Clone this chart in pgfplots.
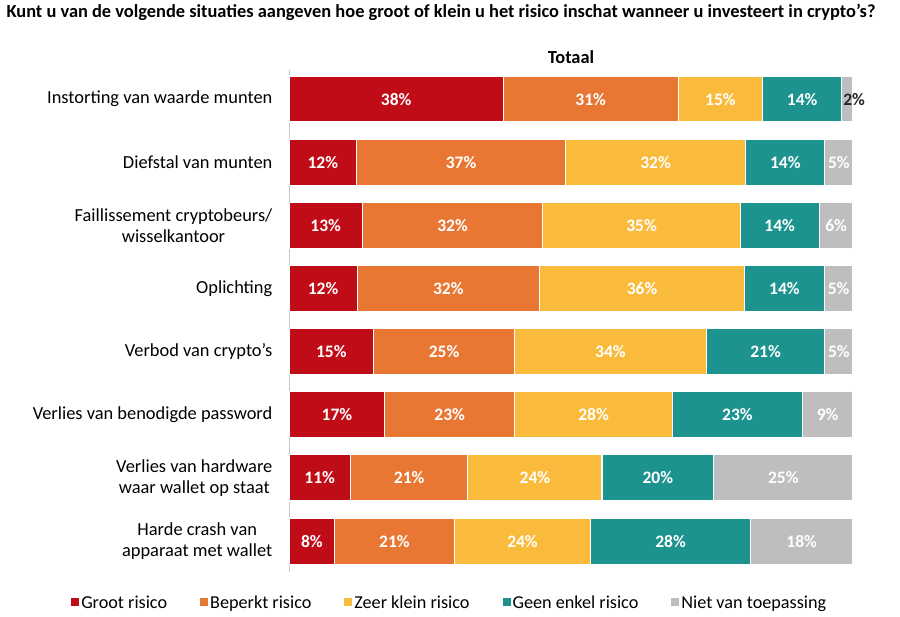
\documentclass[border=0pt]{standalone}
\usepackage{pgfplots}
\pgfplotsset{compat=1.18}
\usepackage{pgfplotstable}
\usepackage{fontspec}
\setmainfont{Carlito}

\definecolor{groot}{RGB}{192,12,22}
\definecolor{beperkt}{RGB}{233,119,52}
\definecolor{zeerklein}{RGB}{250,187,60}
\definecolor{geen}{RGB}{28,147,143}
\definecolor{niet}{RGB}{190,190,190}

% plotted widths (rows normalised to 100) and printed labels
\pgfplotstableread{
y  a    b    c    d    e    la lb lc ld le dark off z
1  38   31   15   14   2    38 31 15 14 2  85   1.2 0
2  12   37   32   14   5    12 37 32 14 5  0    0   0
3  13   32   35   14   6    13 32 35 14 6  0    0   0
4  12.1 32.3 36.4 14.1 5.1  12 32 36 14 5  0    0   0
5  15   25   34   21   5    15 25 34 21 5  0    0   0
6  17   23   28   23   9    17 23 28 23 9  0    0   0
7  10.9 20.8 23.8 19.8 24.7 11 21 24 20 25 0    0   0
8  8.1  21.2 24.2 28.3 18.2 8  21 24 28 18 0    0   0
}\risico

\pgfplotsset{
  seg/.style n args={3}{fill=#1, draw=white, line width=1.2bp,
    visualization depends on=\thisrow{#2} \as \offv,
    visualization depends on=\thisrow{#3} \as \darkv},
}

\begin{document}
\begin{tikzpicture}
\useasboundingbox (0,0) rectangle (900bp,617bp);
\node[anchor=west, font=\fontsize{18.4bp}{21bp}\selectfont\bfseries] at (3bp,605bp)
  {Kunt u van de volgende situaties aangeven hoe groot of klein u het risico inschat wanneer u investeert in crypto’s?};
\node[font=\fontsize{18.4bp}{21bp}\selectfont\bfseries] at (571bp,560bp) {Totaal};
\begin{axis}[
  at={(289bp,45bp)}, anchor=south west,
  width=564bp, height=502bp,
  scale only axis,
  xbar stacked,
  bar width=0.73,
  xmin=0, xmax=100,
  ymin=0.54, ymax=8.49,
  y dir=reverse,
  axis x line=none,
  axis y line=left,
  y axis line style={-, draw=black!22, line width=1bp},
  ytick={1,...,8},
  ytick style={draw=none},
  yticklabels={
    Instorting van waarde munten,
    Diefstal van munten,
    {Faillissement cryptobeurs/\\wisselkantoor},
    Oplichting,
    Verbod van crypto’s,
    Verlies van benodigde password,
    {Verlies van hardware\\waar wallet op staat},
    {Harde crash van\\apparaat met wallet}},
  yticklabel style={align=center, font=\fontsize{18.4bp}{21bp}\selectfont, xshift=-11bp},
  point meta=explicit symbolic,
  nodes near coords={\pgfplotspointmeta\%},
  every node near coord/.append style={anchor=center,
    shift={(axis direction cs:\offv,0)}, text=black!\darkv!white,
    font=\fontsize{17.5bp}{20bp}\selectfont\bfseries},
  legend columns=5,
  legend style={draw=none, at={(0.285,-0.062)}, anchor=center,
    font=\fontsize{18.2bp}{21bp}\selectfont,
    /tikz/every even column/.append style={column sep=31bp}},
  legend image code/.code={\fill[#1,draw=none] (0bp,-3bp) rectangle (8bp,5bp);},
]
\addplot[seg={groot}{z}{z}] table[x=a, y=y, meta=la] {\risico};
\addplot[seg={beperkt}{z}{z}] table[x=b, y=y, meta=lb] {\risico};
\addplot[seg={zeerklein}{z}{z}] table[x=c, y=y, meta=lc] {\risico};
\addplot[seg={geen}{z}{z}] table[x=d, y=y, meta=ld] {\risico};
\addplot[seg={niet}{off}{dark}] table[x=e, y=y, meta=le] {\risico};
\legend{Groot risico, Beperkt risico, Zeer klein risico, Geen enkel risico, Niet van toepassing}
\end{axis}
\end{tikzpicture}
\end{document}
